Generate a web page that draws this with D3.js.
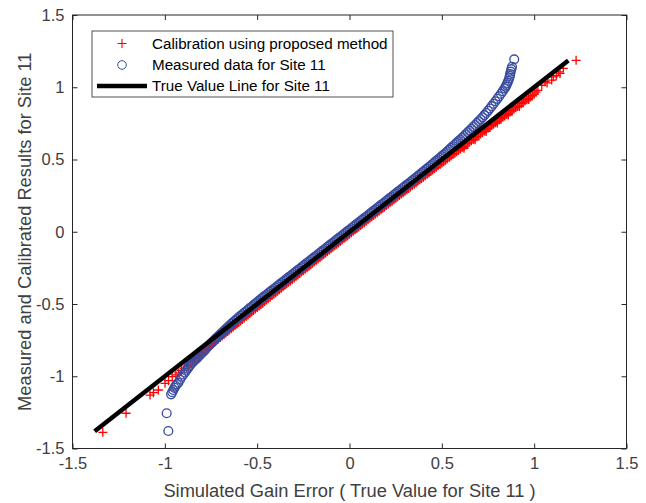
<!DOCTYPE html>
<html>
<head>
<meta charset="utf-8">
<script src="https://cdn.jsdelivr.net/npm/d3@7"></script>
<style>
  body { margin: 0; background: #fff; }
  svg { display: block; font-family: "Liberation Sans", Arial, sans-serif; }
</style>
</head>
<body>
<div id="chart"></div>
<script>
// ticks
const xTicks = [-1.5, -1, -0.5, 0, 0.5, 1, 1.5];
const yTicks = [-1.5, -1, -0.5, 0, 0.5, 1, 1.5];

// true value line
const trueX = [-1.38, 1.185];
const trueY = [-1.38, 1.185];

// measured data (blue circles)
const measuredX = [
  -0.981, -0.990, -0.966, -0.960, -0.954, -0.948, -0.942, -0.935, -0.927, -0.918,
  -0.909, -0.900, -0.892, -0.885, -0.877, -0.870, -0.862, -0.855, -0.848, -0.841,
  -0.834, -0.827, -0.818, -0.809, -0.800, -0.792, -0.785,
  -0.78, -0.77, -0.76, -0.75, -0.74, -0.73, -0.72, -0.71, -0.70, -0.69,
  -0.68, -0.67, -0.66, -0.65, -0.64, -0.63, -0.62, -0.61, -0.60, -0.59,
  -0.58, -0.57, -0.56, -0.55, -0.54, -0.53, -0.52, -0.51, -0.50, -0.49,
  -0.48, -0.47, -0.46, -0.45, -0.44, -0.43, -0.42, -0.41, -0.40, -0.39,
  -0.38, -0.37, -0.36, -0.35, -0.34, -0.33, -0.32, -0.31, -0.30, -0.29,
  -0.28, -0.27, -0.26, -0.25, -0.24, -0.23, -0.22, -0.21, -0.20, -0.19,
  -0.18, -0.17, -0.16, -0.15, -0.14, -0.13, -0.12, -0.11, -0.10, -0.09,
  -0.08, -0.07, -0.06, -0.05, -0.04, -0.03, -0.02, -0.01, 0.00, 0.01,
  0.02, 0.03, 0.04, 0.05, 0.06, 0.07, 0.08, 0.09, 0.10, 0.11,
  0.12, 0.13, 0.14, 0.15, 0.16, 0.17, 0.18, 0.19, 0.20, 0.21,
  0.22, 0.23, 0.24, 0.25, 0.26, 0.27, 0.28, 0.29, 0.30, 0.31,
  0.32, 0.33, 0.34, 0.35, 0.36, 0.37, 0.38, 0.39, 0.40, 0.41,
  0.42, 0.43, 0.44, 0.45, 0.46, 0.47, 0.48, 0.49, 0.50, 0.51,
  0.52, 0.53, 0.54, 0.55, 0.56, 0.57, 0.58, 0.59, 0.60, 0.61,
  0.62, 0.63, 0.64, 0.65, 0.66, 0.67, 0.68, 0.69, 0.70, 0.71,
  0.72, 0.73, 0.74, 0.75, 0.76, 0.77, 0.78, 0.79, 0.80, 0.81,
  0.82, 0.83, 0.84, 0.845, 0.85, 0.855, 0.86, 0.865, 0.868, 0.870,
  0.873, 0.876, 0.880, 0.892
];
const measuredY = [
  -1.379, -1.256, -1.125, -1.110, -1.095, -1.080, -1.066, -1.055, -1.045, -1.024,
  -1.003, -0.988, -0.974, -0.962, -0.948, -0.935, -0.922, -0.910, -0.900, -0.892,
  -0.884, -0.876, -0.864, -0.852, -0.840, -0.830, -0.822,
  -0.813, -0.799, -0.786, -0.773, -0.760, -0.747, -0.735, -0.722, -0.710, -0.698,
  -0.686, -0.674, -0.662, -0.650, -0.638, -0.626, -0.615, -0.604, -0.593, -0.582,
  -0.571, -0.561, -0.550, -0.540, -0.529, -0.519, -0.508, -0.498, -0.487, -0.477,
  -0.466, -0.456, -0.446, -0.436, -0.426, -0.416, -0.406, -0.396, -0.386, -0.376,
  -0.366, -0.356, -0.346, -0.336, -0.326, -0.316, -0.306, -0.296, -0.286, -0.276,
  -0.266, -0.256, -0.246, -0.236, -0.226, -0.216, -0.206, -0.196, -0.186, -0.176,
  -0.166, -0.156, -0.146, -0.136, -0.126, -0.116, -0.106, -0.096, -0.086, -0.076,
  -0.066, -0.056, -0.046, -0.036, -0.026, -0.016, -0.006, 0.004, 0.014, 0.024,
  0.034, 0.044, 0.054, 0.064, 0.074, 0.084, 0.094, 0.104, 0.114, 0.124,
  0.134, 0.144, 0.154, 0.164, 0.174, 0.184, 0.194, 0.204, 0.214, 0.224,
  0.234, 0.244, 0.254, 0.264, 0.274, 0.284, 0.294, 0.304, 0.314, 0.324,
  0.334, 0.344, 0.354, 0.364, 0.374, 0.385, 0.395, 0.406, 0.416, 0.427,
  0.437, 0.448, 0.458, 0.469, 0.480, 0.490, 0.501, 0.512, 0.523, 0.534,
  0.545, 0.557, 0.568, 0.580, 0.592, 0.604, 0.615, 0.627, 0.638, 0.650,
  0.662, 0.675, 0.688, 0.700, 0.713, 0.726, 0.739, 0.752, 0.765, 0.778,
  0.792, 0.807, 0.822, 0.837, 0.853, 0.869, 0.886, 0.903, 0.920, 0.937,
  0.955, 0.973, 0.992, 1.003, 1.015, 1.030, 1.045, 1.063, 1.078, 1.092,
  1.108, 1.125, 1.142, 1.193
];

// calibration using proposed method (red +)
const calibX = [
  -1.336, -1.210, -1.080, -1.062, -1.035, -0.999, -0.980, -0.960, -0.940, -0.925,
  -0.910, -0.895, -0.880, -0.871,
  -0.86, -0.85, -0.84, -0.83, -0.82, -0.81, -0.80, -0.79, -0.78, -0.77,
  -0.76, -0.75, -0.74, -0.73, -0.72, -0.71, -0.70, -0.69, -0.68, -0.67,
  -0.66, -0.65, -0.64, -0.63, -0.62, -0.61, -0.60, -0.59, -0.58, -0.57,
  -0.56, -0.55, -0.54, -0.53, -0.52, -0.51, -0.50, -0.49, -0.48, -0.47,
  -0.46, -0.45, -0.44, -0.43, -0.42, -0.41, -0.40, -0.39, -0.38, -0.37,
  -0.36, -0.35, -0.34, -0.33, -0.32, -0.31, -0.30, -0.29, -0.28, -0.27,
  -0.26, -0.25, -0.24, -0.23, -0.22, -0.21, -0.20, -0.19, -0.18, -0.17,
  -0.16, -0.15, -0.14, -0.13, -0.12, -0.11, -0.10, -0.09, -0.08, -0.07,
  -0.06, -0.05, -0.04, -0.03, -0.02, -0.01, 0.00, 0.01, 0.02, 0.03,
  0.04, 0.05, 0.06, 0.07, 0.08, 0.09, 0.10, 0.11, 0.12, 0.13,
  0.14, 0.15, 0.16, 0.17, 0.18, 0.19, 0.20, 0.21, 0.22, 0.23,
  0.24, 0.25, 0.26, 0.27, 0.28, 0.29, 0.30, 0.31, 0.32, 0.33,
  0.34, 0.35, 0.36, 0.37, 0.38, 0.39, 0.40, 0.41, 0.42, 0.43,
  0.44, 0.45, 0.46, 0.47, 0.48, 0.49, 0.50, 0.51, 0.52, 0.53,
  0.54, 0.55, 0.56, 0.57, 0.58, 0.59, 0.60, 0.61, 0.62, 0.63,
  0.64, 0.65, 0.66, 0.67, 0.68, 0.69, 0.70, 0.71, 0.72, 0.73,
  0.74, 0.75, 0.76, 0.77, 0.78, 0.79, 0.80, 0.81, 0.82, 0.83,
  0.84, 0.85, 0.86, 0.87, 0.88, 0.89, 0.90, 0.91, 0.92, 0.93,
  0.94, 0.95, 0.96, 0.97, 0.98, 0.99, 1.00,
  0.62, 0.68, 0.74, 0.80, 0.86, 0.92, 0.97,
  1.010, 1.020, 1.041, 1.059, 1.070, 1.095, 1.104, 1.120, 1.131, 1.140,
  1.158, 1.227
];
const calibY = [
  -1.388, -1.256, -1.130, -1.114, -1.095, -1.049, -1.030, -1.003, -0.990, -0.977,
  -0.960, -0.945, -0.930, -0.924,
  -0.899, -0.889, -0.878, -0.868, -0.857, -0.847, -0.836, -0.826, -0.815, -0.805,
  -0.794, -0.784, -0.773, -0.763, -0.753, -0.742, -0.732, -0.721, -0.711, -0.700,
  -0.690, -0.680, -0.669, -0.659, -0.649, -0.638, -0.628, -0.617, -0.607, -0.597,
  -0.586, -0.576, -0.566, -0.555, -0.545, -0.535, -0.525, -0.514, -0.504, -0.494,
  -0.483, -0.473, -0.463, -0.453, -0.442, -0.432, -0.422, -0.412, -0.401, -0.391,
  -0.381, -0.371, -0.360, -0.350, -0.340, -0.330, -0.320, -0.310, -0.299, -0.289,
  -0.279, -0.269, -0.259, -0.249, -0.238, -0.228, -0.218, -0.208, -0.198, -0.188,
  -0.178, -0.168, -0.158, -0.147, -0.137, -0.127, -0.117, -0.107, -0.097, -0.087,
  -0.077, -0.067, -0.057, -0.047, -0.037, -0.027, -0.017, -0.007, 0.003, 0.013,
  0.023, 0.033, 0.043, 0.053, 0.063, 0.073, 0.083, 0.093, 0.103, 0.113,
  0.122, 0.132, 0.142, 0.152, 0.162, 0.172, 0.182, 0.192, 0.202, 0.211,
  0.221, 0.231, 0.241, 0.251, 0.261, 0.270, 0.280, 0.290, 0.300, 0.310,
  0.320, 0.329, 0.339, 0.349, 0.359, 0.368, 0.378, 0.388, 0.398, 0.407,
  0.417, 0.427, 0.437, 0.446, 0.456, 0.466, 0.475, 0.485, 0.495, 0.505,
  0.514, 0.524, 0.534, 0.543, 0.553, 0.563, 0.572, 0.582, 0.591, 0.601,
  0.611, 0.620, 0.630, 0.639, 0.649, 0.658, 0.668, 0.677, 0.687, 0.697,
  0.706, 0.716, 0.725, 0.735, 0.744, 0.754, 0.763, 0.773, 0.782, 0.792,
  0.801, 0.811, 0.820, 0.829, 0.839, 0.848, 0.858, 0.867, 0.876, 0.886,
  0.895, 0.905, 0.914, 0.923, 0.933, 0.942, 0.952,
  0.578, 0.636, 0.694, 0.752, 0.808, 0.866, 0.915,
  0.966, 0.978, 1.014, 1.038, 1.030, 1.050, 1.072, 1.080, 1.107, 1.096,
  1.131, 1.186
];

const legendLabels = ['Calibration using proposed method', 'Measured data for Site 11', 'True Value Line for Site 11'];

const width = 646;
const height = 503;
const mLeft = 72.5, mRight = 626.5, mTop = 15, mBottom = 448.5;

const axisColor = '#262626';
const textColor = '#404040';
const red = '#ff0000';
const blue = '#3a4c9f';

const x = d3.scaleLinear().domain([-1.5, 1.5]).range([mLeft, mRight]);
const y = d3.scaleLinear().domain([-1.5, 1.5]).range([mBottom, mTop]);

const svg = d3.select('#chart').append('svg')
  .attr('width', width)
  .attr('height', height);

svg.append('rect')
  .attr('width', width).attr('height', height)
  .attr('fill', '#fff');

// axes (ticks inward, box on)
const fmt = d => String(d);

const gx = svg.append('g')
  .attr('transform', `translate(0,${mBottom})`)
  .call(d3.axisBottom(x).tickValues(xTicks).tickSize(-5).tickSizeOuter(0).tickPadding(9).tickFormat(fmt));
const gxTop = svg.append('g')
  .attr('transform', `translate(0,${mTop})`)
  .call(d3.axisTop(x).tickValues(xTicks).tickSize(-5).tickSizeOuter(0).tickFormat(''));
const gy = svg.append('g')
  .attr('transform', `translate(${mLeft},0)`)
  .call(d3.axisLeft(y).tickValues(yTicks).tickSize(-5).tickSizeOuter(0).tickPadding(8).tickFormat(fmt));
const gyRight = svg.append('g')
  .attr('transform', `translate(${mRight},0)`)
  .call(d3.axisRight(y).tickValues(yTicks).tickSize(-5).tickSizeOuter(0).tickFormat(''));

[gx, gxTop, gy, gyRight].forEach(g => {
  g.select('.domain').remove();
  g.selectAll('line').attr('stroke', axisColor);
  g.selectAll('text')
    .attr('fill', textColor)
    .style('font-size', '16.5px')
    .style('font-family', '"Liberation Sans", Arial, sans-serif');
});

svg.append('rect')
  .attr('x', mLeft).attr('y', mTop)
  .attr('width', mRight - mLeft).attr('height', mBottom - mTop)
  .attr('fill', 'none')
  .attr('stroke', axisColor)
  .attr('stroke-width', 1);

// calibration points (red +)
const calib = calibX.map((v, i) => ({ x: v, y: calibY[i] }));
const plusPath = 'M-4.5,0H4.5M0,-4.5V4.5';
svg.append('g').selectAll('path')
  .data(calib)
  .enter().append('path')
  .attr('d', plusPath)
  .attr('transform', d => `translate(${x(d.x)},${y(d.y)})`)
  .attr('stroke', red)
  .attr('stroke-width', 1.3)
  .attr('fill', 'none');

// measured points (blue circles)
const measured = measuredX.map((v, i) => ({ x: v, y: measuredY[i] }));
svg.append('g').selectAll('circle')
  .data(measured)
  .enter().append('circle')
  .attr('cx', d => x(d.x))
  .attr('cy', d => y(d.y))
  .attr('r', 4.4)
  .attr('fill', 'none')
  .attr('stroke', blue)
  .attr('stroke-width', 1.35);

// true value line
const trueLine = trueX.map((v, i) => ({ x: v, y: trueY[i] }));
svg.append('path')
  .datum(trueLine)
  .attr('d', d3.line().x(d => x(d.x)).y(d => y(d.y)))
  .attr('stroke', '#000')
  .attr('stroke-width', 4.5)
  .attr('fill', 'none');

// axis labels
svg.append('text')
  .attr('x', (mLeft + mRight) / 2)
  .attr('y', 497)
  .attr('text-anchor', 'middle')
  .attr('fill', textColor)
  .style('font-size', '18.3px')
  .text('Simulated Gain Error ( True Value for Site 11 )');

svg.append('text')
  .attr('transform', `translate(31,${(mTop + mBottom) / 2}) rotate(-90)`)
  .attr('text-anchor', 'middle')
  .attr('fill', textColor)
  .style('font-size', '18.3px')
  .text('Measured and Calibrated Results for Site 11');

// legend
const legend = svg.append('g');
legend.append('rect')
  .attr('x', 92).attr('y', 31)
  .attr('width', 301).attr('height', 66)
  .attr('fill', '#fff')
  .attr('stroke', axisColor)
  .attr('stroke-width', 0.8);

const rowY = [43.5, 65, 86];
legend.append('path')
  .attr('d', plusPath)
  .attr('transform', `translate(122,${rowY[0]})`)
  .attr('stroke', red).attr('stroke-width', 1.1).attr('fill', 'none');
legend.append('circle')
  .attr('cx', 122).attr('cy', rowY[1]).attr('r', 4.3)
  .attr('fill', 'none').attr('stroke', blue).attr('stroke-width', 1);
legend.append('line')
  .attr('x1', 97).attr('x2', 147)
  .attr('y1', rowY[2]).attr('y2', rowY[2])
  .attr('stroke', '#000').attr('stroke-width', 4.5);

legend.selectAll('text.lab')
  .data(legendLabels)
  .enter().append('text')
  .attr('class', 'lab')
  .attr('x', 152)
  .attr('y', (d, i) => rowY[i] + 5.3)
  .attr('fill', '#000')
  .style('font-size', '15.2px')
  .text(d => d);
</script>
</body>
</html>
